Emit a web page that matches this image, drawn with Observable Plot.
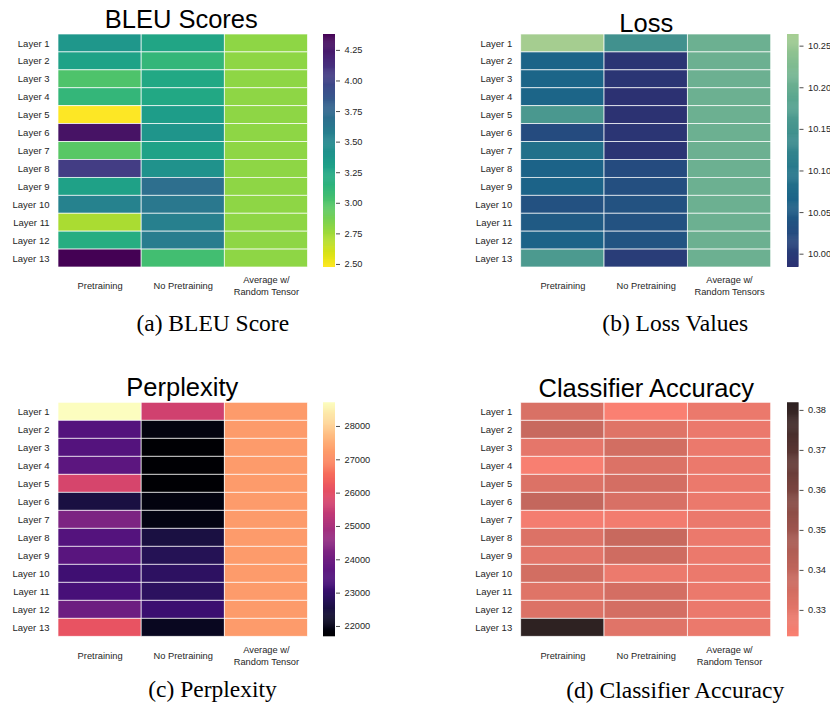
<!DOCTYPE html>
<html>
<head>
<meta charset="utf-8">
<script src="https://cdn.jsdelivr.net/npm/d3@7"></script>
<script src="https://cdn.jsdelivr.net/npm/@observablehq/plot@0.6"></script>
<style>
  body { margin: 0; background: #fff; }
  #fig { position: relative; width: 830px; height: 704px; overflow: hidden; background: #fff; }
  #fig > svg { position: absolute; }
</style>
</head>
<body>
<div id="fig"></div>
<script>
// Row and column categories
const layers = ["Layer 1", "Layer 2", "Layer 3", "Layer 4", "Layer 5", "Layer 6", "Layer 7",
  "Layer 8", "Layer 9", "Layer 10", "Layer 11", "Layer 12", "Layer 13"];
const columnsTensor = ["Pretraining", "No Pretraining", "Average w/\nRandom Tensor"];
const columnsTensors = ["Pretraining", "No Pretraining", "Average w/\nRandom Tensors"];

// BLEU scores per layer
const bleuPretraining = [3.37, 3.28, 3.01, 3.12, 2.475, 4.29, 2.97, 4.04, 3.29, 3.54, 2.72, 3.20, 4.38];
const bleuNoPretraining = [3.26, 3.12, 3.24, 3.24, 3.33, 3.39, 3.28, 3.41, 3.69, 3.62, 3.56, 3.58, 3.05];
const bleuRandom = [2.80, 2.80, 2.80, 2.80, 2.80, 2.80, 2.80, 2.80, 2.80, 2.80, 2.80, 2.80, 2.80];
const bleuTicks = [2.50, 2.75, 3.00, 3.25, 3.50, 3.75, 4.00, 4.25];

// Loss values per layer
const lossPretraining = [10.264, 10.064, 10.065, 10.065, 10.160, 10.024, 10.085, 10.062, 10.062, 10.034, 10.048, 10.063, 10.163];
const lossNoPretraining = [10.146, 9.990, 9.990, 9.984, 9.985, 9.990, 9.990, 10.024, 10.030, 10.035, 10.035, 10.038, 10.003];
const lossRandom = [10.205, 10.205, 10.205, 10.205, 10.205, 10.205, 10.205, 10.205, 10.205, 10.205, 10.205, 10.205, 10.205];
const lossTicks = [10.00, 10.05, 10.10, 10.15, 10.20, 10.25];

// Perplexity per layer
const pplPretraining = [28710, 23500, 23500, 23650, 25760, 22530, 24220, 23500, 23600, 23160, 23300, 23940, 26110];
const pplNoPretraining = [25660, 21900, 21700, 21690, 21690, 21900, 21920, 22530, 22740, 22880, 22860, 23100, 22110];
const pplRandom = [27250, 27250, 27250, 27250, 27250, 27250, 27250, 27250, 27250, 27250, 27250, 27250, 27250];
const pplTicks = [22000, 23000, 24000, 25000, 26000, 27000, 28000];

// Classifier accuracy per layer
const accPretraining = [0.3329, 0.3377, 0.3294, 0.3240, 0.3320, 0.3389, 0.3251, 0.3320, 0.3303, 0.3349, 0.3311, 0.3320, 0.3819];
const accNoPretraining = [0.3234, 0.3311, 0.3349, 0.3320, 0.3343, 0.3332, 0.3257, 0.3377, 0.3357, 0.3274, 0.3343, 0.3343, 0.3308];
const accRandom = [0.3277, 0.3277, 0.3277, 0.3277, 0.3277, 0.3277, 0.3277, 0.3277, 0.3277, 0.3277, 0.3277, 0.3277, 0.3277];
const accTicks = [0.33, 0.34, 0.35, 0.36, 0.37, 0.38];

// Colour ramps: "crest" (dark blue → light green) and salmon → dark
const crestStops = ["#2c3172", "#254b7f", "#1c6488", "#287a8c", "#40908e", "#59a590", "#7dba91", "#a5cd90"];
const crest = d3.piecewise(d3.interpolateRgb, crestStops);
const salmon = d3.interpolateRgb("#fa8072", "#2e2222");

const SANS = "'Liberation Sans', Arial, Helvetica, sans-serif";
const SERIF = "'Liberation Serif', 'Times New Roman', serif";
const TEXT = "#262626";

function table(columns, series) {
  const rows = [];
  series.forEach((values, j) => {
    values.forEach((v, i) => rows.push({layer: layers[i], column: columns[j], value: v}));
  });
  return rows;
}

function colorOptions(extent, spec) {
  return Object.assign({type: "linear", domain: extent}, spec);
}

const fig = document.getElementById("fig");

function place(svg, left, top) {
  svg.style.left = left + "px";
  svg.style.top = top + "px";
  fig.appendChild(svg);
}

function panel(cfg) {
  const rows = table(cfg.columns, cfg.series);
  const extent = d3.extent(rows, (d) => d.value);
  const color = colorOptions(extent, cfg.color);
  const W = 415, H = 352;

  const heat = Plot.plot({
    width: W,
    height: H,
    marginLeft: cfg.frame.left,
    marginRight: W - cfg.frame.right,
    marginTop: cfg.frame.top,
    marginBottom: H - cfg.frame.bottom,
    style: {fontFamily: SANS, fontSize: "9.5px", color: TEXT, background: "transparent", overflow: "visible"},
    x: {domain: cfg.columns, padding: 0, round: false, axis: null},
    y: {domain: layers, padding: 0, round: false, axis: null},
    color,
    marks: [
      Plot.cell(rows, {x: "column", y: "layer", fill: "value", stroke: "white", strokeWidth: 0.8, strokeOpacity: 0.85, inset: 0}),
      Plot.axisY({tickSize: 0, tickPadding: 9, fontSize: 9.5, fill: TEXT, label: null}),
      Plot.text(cfg.columns, {x: (d) => d, frameAnchor: "bottom", dy: 18, lineAnchor: "middle", lineHeight: 1.3, fontSize: 9.3, fill: TEXT}),
      Plot.text([cfg.title], {frameAnchor: "top", dx: cfg.titleDx, dy: cfg.titleDy, lineAnchor: "bottom", fontSize: 25.5, fill: "#000"}),
      Plot.text([cfg.caption], {frameAnchor: "bottom", dx: cfg.captionDx, dy: cfg.captionDy, lineAnchor: "bottom", fontSize: 23.5, fontFamily: SERIF, fill: "#000"})
    ]
  });
  place(heat, cfg.left, cfg.top);

  // Vertical colour bar sharing the heatmap's colour scale
  const n = 240;
  const [lo, hi] = extent;
  const step = (hi - lo) / n;
  const bar = Plot.plot({
    width: 60,
    height: H,
    marginLeft: 0,
    marginRight: 60 - cfg.barWidth,
    marginTop: cfg.frame.top,
    marginBottom: H - cfg.frame.bottom,
    style: {fontFamily: SANS, fontSize: "9.25px", color: TEXT, background: "transparent", overflow: "visible"},
    x: {domain: [0, 1], axis: null},
    y: {domain: [lo, hi]},
    color,
    marks: [
      Plot.rect(d3.range(n), {x1: 0, x2: 1, y1: (i) => lo + i * step, y2: (i) => Math.min(hi, lo + (i + 1.5) * step), fill: (i) => lo + (i + 0.5) * step}),
      Plot.axisY({anchor: "right", ticks: cfg.ticks, tickFormat: cfg.format, tickSize: 4, tickPadding: 5, fontSize: 9.25, stroke: "#4d4d4d", fill: TEXT, label: null})
    ]
  });
  place(bar, cfg.barLeft, cfg.top);
}

panel({
  title: "BLEU Scores", caption: "(a) BLEU Score",
  columns: columnsTensor, series: [bleuPretraining, bleuNoPretraining, bleuRandom],
  color: {scheme: "viridis", reverse: true},
  left: 0, top: 0, frame: {left: 58, right: 307.5, top: 34, bottom: 267},
  titleDx: -2, titleDy: -7, captionDx: 29.5, captionDy: 63,
  barLeft: 323, barWidth: 12, ticks: bleuTicks, format: d3.format(".2f")
});

panel({
  title: "Loss", caption: "(b) Loss Values",
  columns: columnsTensors, series: [lossPretraining, lossNoPretraining, lossRandom],
  color: {interpolate: (t) => crest(t)},
  left: 415, top: 0, frame: {left: 105.7, right: 355.7, top: 34, bottom: 267},
  titleDx: 0, titleDy: -3, captionDx: 29, captionDy: 63,
  barLeft: 786.7, barWidth: 11.5, ticks: lossTicks, format: d3.format(".2f")
});

panel({
  title: "Perplexity", caption: "(c) Perplexity",
  columns: columnsTensor, series: [pplPretraining, pplNoPretraining, pplRandom],
  color: {scheme: "magma"},
  left: 0, top: 352, frame: {left: 58, right: 307.5, top: 50.3, bottom: 284.3},
  titleDx: -1, titleDy: -7.3, captionDx: 29.2, captionDy: 60.2,
  barLeft: 323, barWidth: 12, ticks: pplTicks, format: d3.format("d")
});

panel({
  title: "Classifier Accuracy", caption: "(d) Classifier Accuracy",
  columns: columnsTensor, series: [accPretraining, accNoPretraining, accRandom],
  color: {interpolate: (t) => salmon(t)},
  left: 415, top: 352, frame: {left: 105.7, right: 355.7, top: 50.3, bottom: 284.3},
  titleDx: 0, titleDy: -6.3, captionDx: 29, captionDy: 60.7,
  barLeft: 786.7, barWidth: 11.5, ticks: accTicks, format: d3.format(".2f")
});
</script>
</body>
</html>
